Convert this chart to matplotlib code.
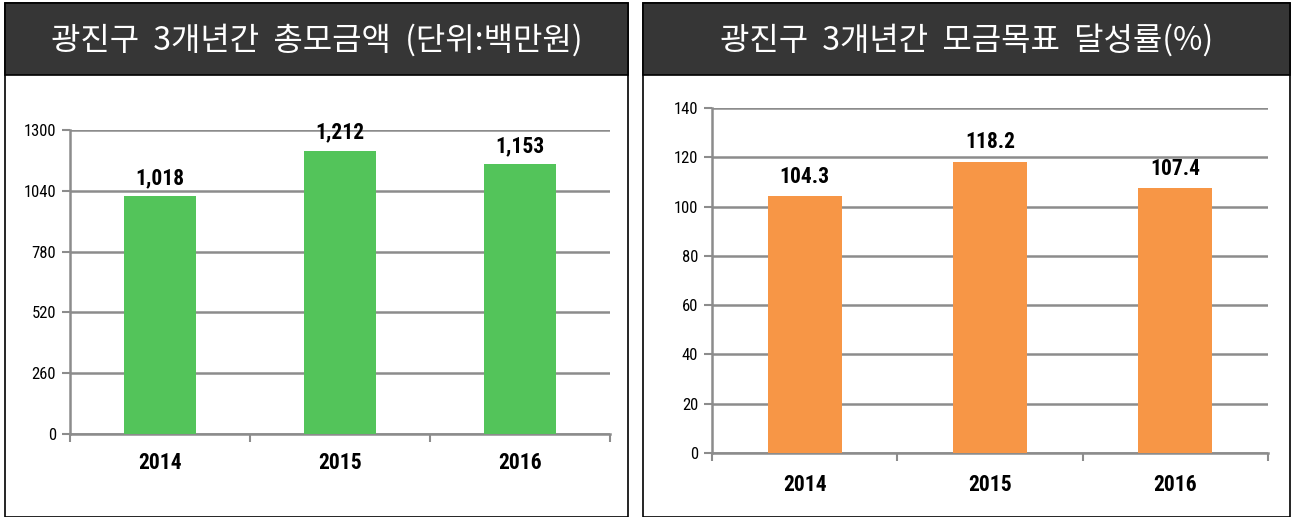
import matplotlib
matplotlib.use("Agg")
import matplotlib.pyplot as plt
from matplotlib.patches import Rectangle
import matplotlib.font_manager as fm

years = ["2014", "2015", "2016"]
total_amount = [1018, 1212, 1153]
amount_labels = ["1,018", "1,212", "1,153"]
achievement = [104.3, 118.2, 107.4]
achievement_labels = ["104.3", "118.2", "107.4"]
left_ticks = [0, 260, 520, 780, 1040, 1300]
right_ticks = [0, 20, 40, 60, 80, 100, 120, 140]
title_left = "광진구  3개년간  총모금액  (단위:백만원)"
title_right = "광진구  3개년간  모금목표  달성률(%)"

W, H = 1292, 517
fig = plt.figure(figsize=(W / 100, H / 100), dpi=100)

names = {f.name for f in fm.fontManager.ttflist}
narrow = "DejaVu Sans"
for cand in ["Liberation Sans Narrow", "DejaVu Sans Condensed", "Roboto Condensed", "Roboto"]:
    if cand in names:
        narrow = cand
        break
cjk = ["Noto Sans CJK KR", "DejaVu Sans"]


def px(x0, y0, x1, y1):
    return [x0 / W, 1 - y1 / H, (x1 - x0) / W, (y1 - y0) / H]


def panel(x0, x1, title):
    fig.patches.append(Rectangle((x0 / W, 0), (x1 - x0) / W, 1 - 3 / H,
                                 transform=fig.transFigure, facecolor="white",
                                 edgecolor="black", lw=1.2, zorder=0))
    fig.patches.append(Rectangle((x0 / W, 1 - 75 / H), (x1 - x0) / W, 72 / H,
                                 transform=fig.transFigure, facecolor="#363636",
                                 edgecolor="black", lw=1.2, zorder=1))
    fig.text((x0 + x1) / 2 / W, 1 - 40 / H, title, color="white", fontsize=23,
             family=cjk, fontweight="medium", ha="center", va="center", zorder=2)


panel(5, 628, title_left)
panel(643, 1290, title_right)


def chart(rect, vals, labels, ticks, color, label_off, xlab_pad):
    ax = fig.add_axes(rect)
    ax.set_zorder(5)
    ax.set_facecolor("none")
    x = range(len(vals))
    ax.bar(x, vals, width=0.4, color=color, zorder=3)
    ax.set_xlim(-0.5, len(vals) - 0.5)
    ax.set_ylim(0, ticks[-1])
    ax.set_yticks(ticks)
    ax.set_yticklabels([str(t) for t in ticks], family=narrow, fontsize=12)
    ax.set_xticks([-0.5, 0.5, 1.5, 2.5])
    ax.set_xticklabels([])
    ax.set_xticks(list(x), minor=True)
    ax.set_xticklabels(years, minor=True, family=narrow, fontsize=15.5, fontweight="bold")
    ax.tick_params(axis="x", which="minor", length=0, pad=xlab_pad)
    ax.tick_params(axis="x", which="major", length=6, width=1.5, color="#8c8c8c", direction="out")
    ax.tick_params(axis="y", length=6, width=1.5, color="#8c8c8c", direction="out", pad=4)
    ax.yaxis.grid(True, color="#8c8c8c", lw=1.8, zorder=1)
    ax.set_axisbelow(True)
    for s in ["top", "right"]:
        ax.spines[s].set_visible(False)
    for s in ["left", "bottom"]:
        ax.spines[s].set_color("#8c8c8c")
        ax.spines[s].set_linewidth(1.8)
    for xi, v, lab in zip(x, vals, labels):
        ax.annotate(lab, (xi, v), xytext=(0, label_off), textcoords="offset points",
                    ha="center", va="bottom", family=narrow, fontsize=15.5,
                    fontweight="bold")
    return ax


chart(px(70, 130, 610, 434), total_amount, amount_labels, left_ticks, "#53C45A", 5, 13)
chart(px(712, 108, 1268, 453), achievement, achievement_labels, right_ticks, "#F79646", 6, 15)

fig.savefig("out.png", dpi=100)
